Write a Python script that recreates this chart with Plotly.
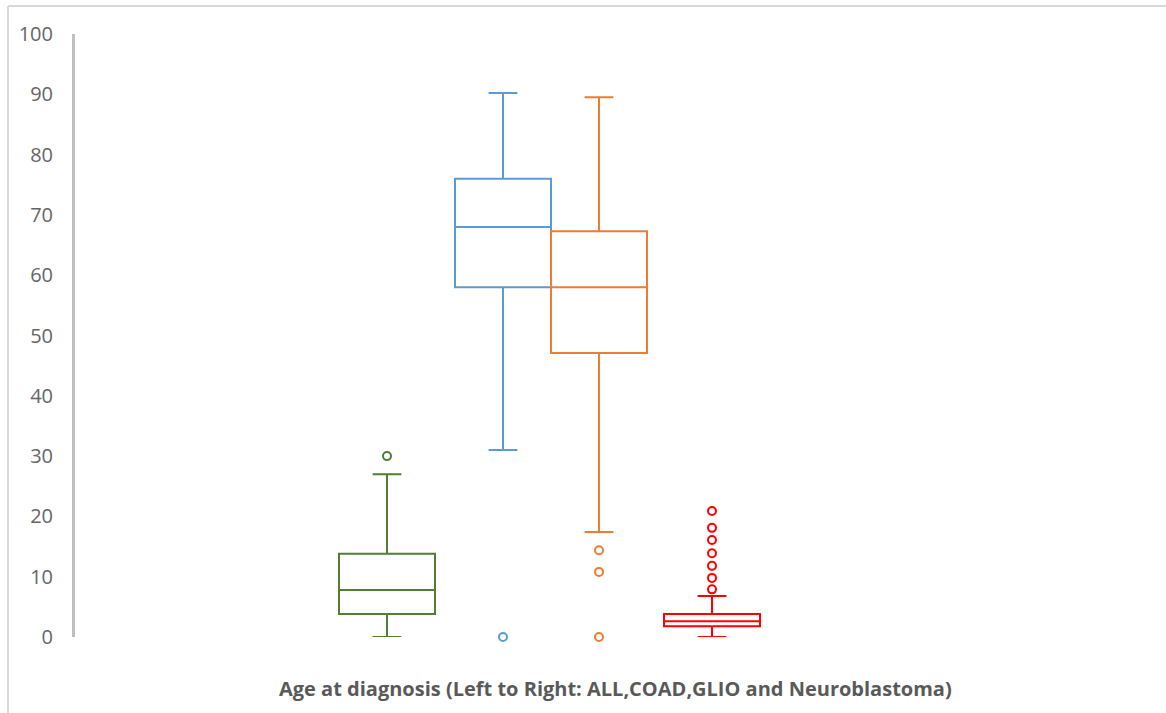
import plotly.graph_objects as go

# ---- data ----
groups = ["ALL", "COAD", "GLIO", "Neuroblastoma"]
lower_fence = [0.0, 31.0, 17.4, 0.0]
q1 = [3.8, 58.0, 47.1, 1.8]
median = [7.8, 68.0, 58.0, 2.6]
q3 = [13.8, 76.0, 67.3, 3.8]
upper_fence = [27.0, 90.2, 89.5, 6.8]
outliers = [
    [30.0],
    [0.0],
    [14.4, 10.8, 0.0],
    [20.9, 18.1, 16.1, 13.9, 11.8, 9.8, 7.9],
]
y_ticks = [0, 10, 20, 30, 40, 50, 60, 70, 80, 90, 100]

# ---- layout / style ----
colors = ["#507E32", "#5B9BD5", "#ED7D31", "#FF0000"]
positions = [387, 503, 599, 712]   # horizontal placement (x-axis units = px)
box_width = 96

fig = go.Figure()
for i, g in enumerate(groups):
    fig.add_trace(go.Box(
        name=g,
        x=[positions[i]],
        q1=[q1[i]], median=[median[i]], q3=[q3[i]],
        lowerfence=[lower_fence[i]], upperfence=[upper_fence[i]],
        width=box_width,
        whiskerwidth=0.3,
        line=dict(color=colors[i], width=2),
        fillcolor="rgba(255,255,255,0)",
        boxpoints=False,
        showlegend=False,
        hoverinfo="skip",
    ))
    fig.add_trace(go.Scatter(
        x=[positions[i]] * len(outliers[i]),
        y=outliers[i],
        mode="markers",
        marker=dict(symbol="circle-open", size=8, color=colors[i],
                    line=dict(width=2, color=colors[i])),
        cliponaxis=False,
        showlegend=False,
        hoverinfo="skip",
    ))

L, R, T, B = 75, 30, 34, 76
W, H = 1166, 713
fig.update_layout(
    width=W, height=H,
    margin=dict(l=L, r=R, t=T, b=B),
    paper_bgcolor="white",
    plot_bgcolor="white",
    font=dict(family="Open Sans", color="#595959"),
    xaxis=dict(range=[L, W - R], showticklabels=False, showgrid=False,
               zeroline=False, showline=False, ticks=""),
    yaxis=dict(range=[0, 100], tickvals=y_ticks, showgrid=False,
               zeroline=False, showline=True, linecolor="#BFBFBF",
               linewidth=3, ticks="", ticklabelstandoff=15,
               tickfont=dict(size=20, color="#666666")),
    annotations=[dict(
        text="<b>Age at diagnosis (Left to Right: ALL,COAD,GLIO and Neuroblastoma)</b>",
        xref="x", yref="y", x=615, y=0, yshift=-51,
        xanchor="center", yanchor="middle", showarrow=False,
        font=dict(size=20, color="#595959", family="Open Sans"),
    )],
)

# chart frame (top and left edges visible in the reference)
px = lambda v: (v - L) / (W - L - R)
py = lambda v: (H - B - v) / (H - T - B)
fig.add_shape(type="line", xref="paper", yref="paper",
              x0=px(8), x1=px(W), y0=py(6), y1=py(6),
              line=dict(color="#D9D9D9", width=2))
fig.add_shape(type="line", xref="paper", yref="paper",
              x0=px(8), x1=px(8), y0=py(6), y1=py(H),
              line=dict(color="#D9D9D9", width=2))

fig.write_html("out.html")
